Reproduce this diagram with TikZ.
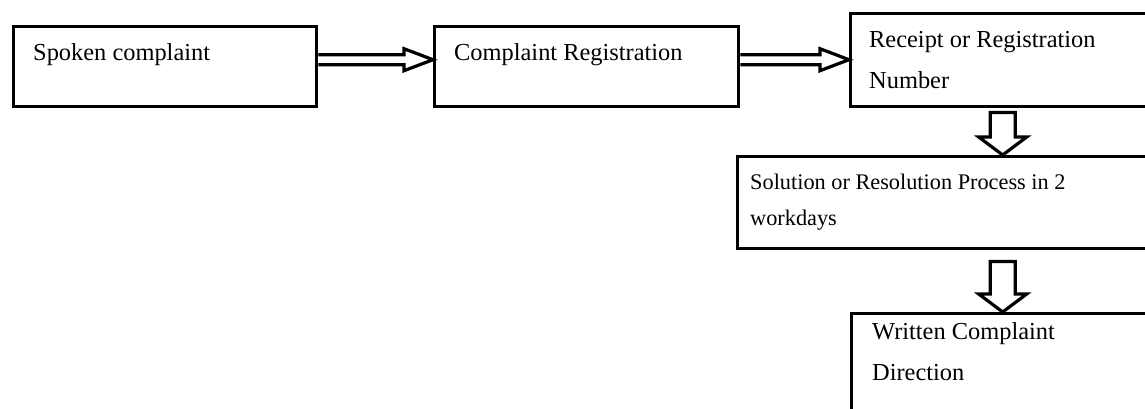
\documentclass[tikz,border=0pt]{standalone}
\usepackage{fontspec}
\setmainfont{Liberation Serif}
\usetikzlibrary{calc}

\tikzset{
  stepbox/.style={draw, line width=3.4pt, inner sep=0pt, anchor=north west},
  boxtext/.style={anchor=base west, inner sep=0pt, align=left,
    font=\fontsize{24.4}{41}\selectfont},
  smalltext/.style={boxtext, font=\fontsize{22.3}{36}\selectfont},
  arrowline/.style={line width=3.2pt},
  harrow/.style={arrowline, to path={let \p1=(\tikztostart), \p2=(\tikztotarget) in
    (\x1,\y1+12pt) -- (\x2-29pt,\y1+12pt) -- (\x2-29pt,\y1+18pt) -- (\x2,\y1+7pt)
    -- (\x2-29pt,\y1-4pt) -- (\x2-29pt,\y1+2pt) -- (\x1,\y1+2pt)}},
  varrow/.style={arrowline, to path={let \p1=(\tikztostart), \p2=(\tikztotarget) in
    (\x1-12.5pt,\y1-#1) -- (\x1+12.5pt,\y1-#1) -- (\x1+12.5pt,\y2+18pt)
    -- (\x1+24pt,\y2+18pt) -- (\x1,\y2) -- (\x1-24pt,\y2+18pt)
    -- (\x1-12.5pt,\y2+18pt) -- cycle}},
  varrow/.default=4pt
}

\begin{document}
\begin{tikzpicture}[x=1pt, y=-1pt]
  \useasboundingbox (0,0) rectangle (1145,408);
  \clip (0,0) rectangle (1145,408);

  % boxes
  \node[stepbox, minimum width=303pt, minimum height=80pt] (spoken) at (12,25) {};
  \node[stepbox, minimum width=304pt, minimum height=80pt] (registration) at (433,25) {};
  \node[stepbox, minimum width=304pt, minimum height=93pt] (receipt) at (849,12) {};
  \node[stepbox, minimum width=530pt, minimum height=92pt] (solution) at (736,155) {};
  \node[stepbox, minimum width=302pt, minimum height=120pt] (written) at (850,312) {};

  % texts (base = last line)
  \node[boxtext] (spokentxt) at ([shift={(21,35)}]spoken.north west) {Spoken complaint};
  \node[boxtext] (registrationtxt) at ([shift={(21,35)}]registration.north west) {Complaint Registration};
  \node[boxtext] (receipttxt) at ([shift={(20,76)}]receipt.north west) {Receipt or Registration\\Number};
  \node[smalltext] (solutiontxt) at ([shift={(14,70)}]solution.north west) {Solution or Resolution Process in 2\\workdays};
  \node[boxtext] (writtentxt) at ([shift={(22,68)}]written.north west) {Written Complaint\\Direction};

  % arrows
  \draw[harrow] (spoken.east) to (registration.west);
  \draw[harrow] (registration.east) to (receipt.west);
  \draw[varrow] (receipt.south) to (solution.north);
  \draw[varrow=11pt] (solution.south) to (written.north);
\end{tikzpicture}
\end{document}
